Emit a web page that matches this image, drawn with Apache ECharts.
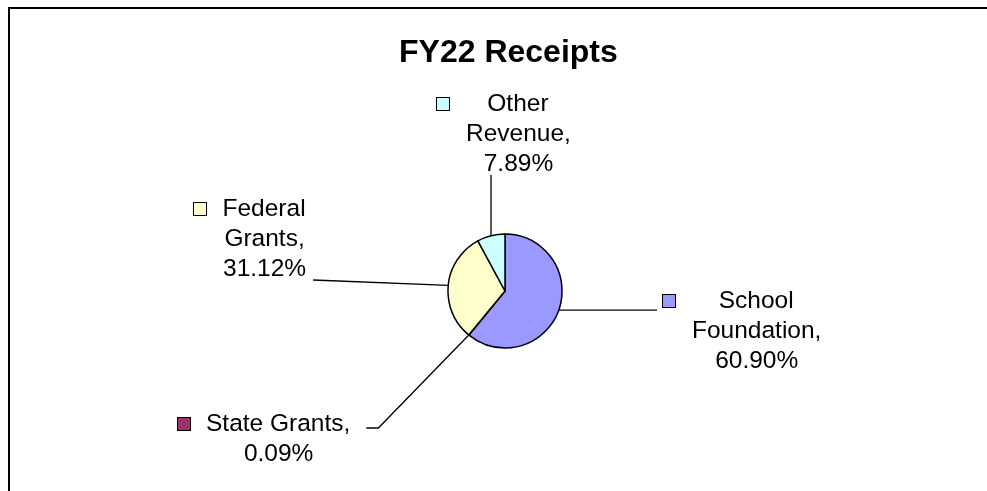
<!DOCTYPE html>
<html>
<head>
<meta charset="utf-8">
<script src="https://cdn.jsdelivr.net/npm/echarts@6/dist/echarts.min.js"></script>
<style>
    html, body { margin: 0; padding: 0; background: #fff; }
    #main { width: 987px; height: 491px; }
</style>
</head>
<body>
<div id="main"></div>
<script>
    // FY22 receipts, share of total (%)
    var categories = ['School Foundation', 'State Grants', 'Federal Grants', 'Other Revenue'];
    var shares = [60.90, 0.09, 31.12, 7.89];
    var colors = ['#9999FF', '#993366', '#FFFFCC', '#CCFFFF'];

    // label layout: top-left of each label block, whether the name wraps, leader style
    var labelPos = [[663, 286], [178, 409], [194, 194], [437, 89]];
    var wrapName = [true, false, true, true];
    var elbow = [false, true, false, false];

    var FONT = '"Liberation Sans", Arial, sans-serif';

    var rich = {
        t: { fontSize: 24.5, lineHeight: 30, fontFamily: FONT, color: '#000', align: 'center', verticalAlign: 'middle' },
        g: { width: 16, lineHeight: 30, align: 'left' },
        sp: { width: 29, lineHeight: 30, align: 'left' }
    };
    for (var k = 0; k < colors.length; k++) {
        rich['sq' + k] = {
            width: 12, height: 12, lineHeight: 30, align: 'left', verticalAlign: 'middle',
            backgroundColor: colors[k], borderColor: '#000', borderWidth: 1
        };
    }

    function labelText(params) {
        var i = params.dataIndex;
        var lines;
        if (wrapName[i]) {
            var words = params.name.split(' ');
            lines = [words[0], words.slice(1).join(' ') + ','];
        } else {
            lines = [params.name + ','];
        }
        lines.push(params.value.toFixed(2) + '%');
        var out = [];
        for (var j = 0; j < lines.length; j++) {
            if (j === 0) {
                out.push('{sq' + i + '|}{g|}{t|' + lines[j] + '}');
            } else {
                out.push('{sp|}{t|' + lines[j] + '}');
            }
        }
        return out.join('\n');
    }

    var pieData = [];
    for (var i = 0; i < categories.length; i++) {
        pieData.push({ name: categories[i], value: shares[i], itemStyle: { color: colors[i] } });
    }

    var chart = echarts.init(document.getElementById('main'), null, { renderer: 'canvas' });

    var option = {
        animation: false,
        backgroundColor: '#fff',
        title: {
            text: 'FY22 Receipts',
            left: 394,
            top: 32,
            textStyle: { fontFamily: FONT, fontSize: 32, fontWeight: 'bold', color: '#000' }
        },
        graphic: [{
            type: 'rect',
            shape: { x: 9, y: 8, width: 1000, height: 600 },
            style: { fill: 'none', stroke: '#000', lineWidth: 2 },
            silent: true
        }],
        series: [{
            type: 'pie',
            center: [505, 291],
            radius: 57,
            startAngle: 90,
            clockwise: true,
            avoidLabelOverlap: false,
            itemStyle: { borderColor: '#000', borderWidth: 1.5 },
            label: {
                show: true,
                position: 'outside',
                formatter: labelText,
                lineHeight: 30,
                rich: rich
            },
            labelLine: {
                show: true,
                smooth: false,
                lineStyle: { color: '#000', width: 1.3 }
            },
            labelLayout: function (params) {
                var i = params.dataIndex;
                var pos = labelPos[i];
                var w = params.labelRect.width;
                var h = params.labelRect.height;
                var start = params.labelLinePoints ? params.labelLinePoints[0] : [505, 291];
                var pts;
                if (elbow[i]) {
                    var ex = pos[0] + w + 15;
                    var ey = pos[1] + 19;
                    pts = [start, [ex + 12, ey], [ex, ey]];
                } else {
                    var rx0 = pos[0] - 6, rx1 = pos[0] + w + 6;
                    var ry0 = pos[1] - 2, ry1 = pos[1] + h - 4;
                    var nx = Math.min(Math.max(start[0], rx0), rx1);
                    var ny = Math.min(Math.max(start[1], ry0), ry1);
                    pts = [start, [nx, ny], [nx, ny]];
                }
                return {
                    x: pos[0],
                    y: pos[1],
                    align: 'left',
                    verticalAlign: 'top',
                    labelLinePoints: pts
                };
            },
            emphasis: { disabled: true },
            data: pieData
        }]
    };

    chart.setOption(option);
</script>
</body>
</html>
